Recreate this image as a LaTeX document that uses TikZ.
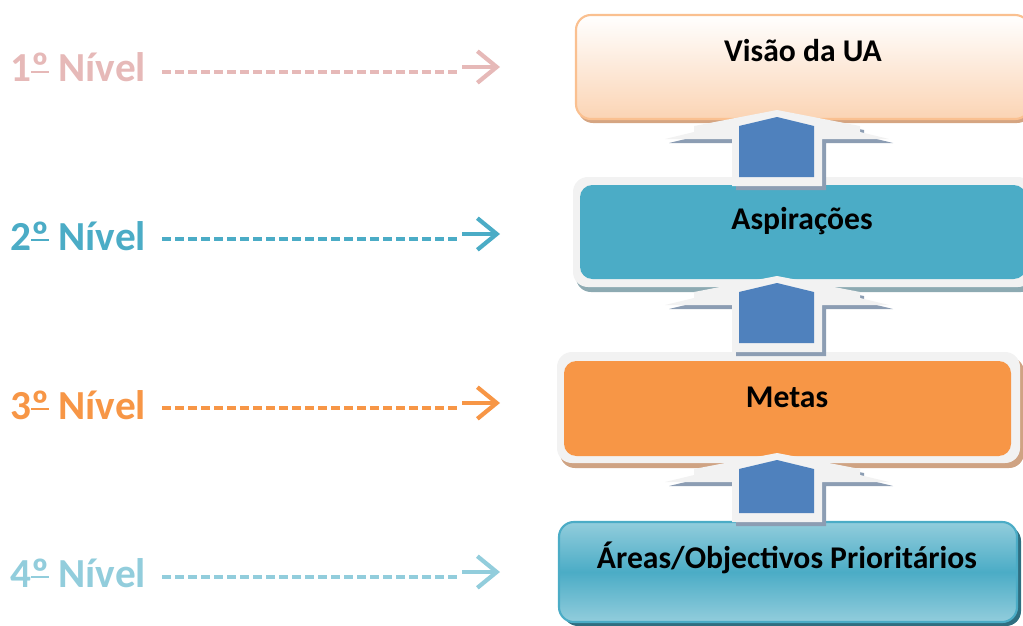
\documentclass[tikz,border=0pt]{standalone}
\usepackage{fontspec}
\setmainfont{Carlito}
\usetikzlibrary{arrows.meta}
\definecolor{lvone}{HTML}{E6B9B8}
\definecolor{lvtwo}{HTML}{4BACC6}
\definecolor{lvthree}{HTML}{F79646}
\definecolor{lvfour}{HTML}{92CDDC}
\definecolor{peach}{HTML}{FBD4B4}
\definecolor{peachline}{HTML}{FAC090}
\definecolor{framegray}{HTML}{F2F2F2}
\definecolor{upblue}{HTML}{4F81BD}
\definecolor{upshadow}{HTML}{8C9DB3}
\definecolor{tanshadow}{HTML}{D5A582}
\definecolor{tealshadow}{HTML}{8DAAB2}
\definecolor{orshadow}{HTML}{CFA383}
\definecolor{darkteal}{HTML}{2F6E80}
\newcommand{\ordu}{\setbox0\hbox{º}\rlap{º}\rule[0.22em]{\wd0}{0.055em}}
\tikzset{
  nivel/.style={font=\fontsize{23.5}{28}\selectfont\bfseries, anchor=base west, inner sep=0pt},
  guide/.style={line width=2.4pt, dash pattern=on 5.1pt off 2.3pt},
  guidetip/.style={line width=2.4pt, -{Straight Barb[length=11pt,width=18pt]}},
  boxtext/.style={font=\fontsize{18}{22}\selectfont\bfseries, anchor=base, inner sep=0pt},
  boxround/.style={rounded corners=8.5pt},
}
\begin{document}
\begin{tikzpicture}[x=0.02cm, y=-0.02cm]
    \useasboundingbox (0,0) rectangle (1023,625);
    \clip (0,0) rectangle (1023,625);

    % boxes
    \fill[boxround, fill=tanshadow] (578,19) rectangle (1032,123);
    \draw[boxround, top color=white, bottom color=peach, draw=peachline, line width=1.2pt] (576,15) rectangle (1030,119);

    \fill[boxround, fill=tealshadow] (576,182) rectangle (1036,292);
    \fill[boxround, fill=framegray] (573,177) rectangle (1033,287);
    \fill[rounded corners=7pt, fill=lvtwo] (580,185) rectangle (1026,279);

    \fill[boxround, fill=orshadow] (560,357) rectangle (1024,468);
    \fill[boxround, fill=framegray] (557,352) rectangle (1020,463);
    \fill[rounded corners=7pt, fill=lvthree] (564,361) rectangle (1011,456);

    \fill[boxround, fill=darkteal] (563,526) rectangle (1021,626);
    \draw[boxround, top color=lvfour, bottom color=lvfour, middle color=lvtwo, draw=lvtwo, line width=1.2pt] (559,522) rectangle (1017,622);

    \node[boxtext] (t1) at (803,62) {Visão da UA};
    \node[boxtext] (t2) at (802,229) {Aspirações};
    \node[boxtext] (t3) at (787,407) {Metas};
    \node[boxtext] (t4) at (787,568) {Áreas/Objectivos Prioritários};

    % up arrows
    \foreach \ty/\h in {110/67, 276/67, 453/60}{
        \begin{scope}[shift={(777,\ty)}]
            \fill[upshadow] (4,4) -- (-79,20) -- (-79,26) -- (-108,33) -- (-41,33) -- (-41,\h+13) -- (49,\h+13) -- (49,33) -- (116,33) -- (87,26) -- (87,20) -- cycle;
            \fill[framegray] (0,0) -- (-83,16) -- (-83,22) -- (-112,29) -- (-45,29) -- (-45,\h+9) -- (45,\h+9) -- (45,29) -- (112,29) -- (83,22) -- (83,16) -- cycle;
            \fill[upblue] (0,7) -- (-38,16) -- (-38,\h) -- (37,\h) -- (37,16) -- cycle;
        \end{scope}
    }

    % levels
    \foreach \i/\c/\yb/\yd/\ya in {1/lvone/82/72/67, 2/lvtwo/250/239/234, 3/lvthree/419/408/403, 4/lvfour/587/577/572}{
        \node[nivel, text=\c] (l\i) at (10,\yb) {{\i}\ordu{} Nível};
        \coordinate (d\i) at (162,\yd);
        \coordinate (e\i) at (459,\yd);
        \coordinate (a\i) at (462,\ya);
        \coordinate (p\i) at (500,\ya);
        \draw[guide, \c] (d\i) -- (e\i);
        \draw[guidetip, \c] (a\i) -- (p\i);
    }
\end{tikzpicture}
\end{document}
